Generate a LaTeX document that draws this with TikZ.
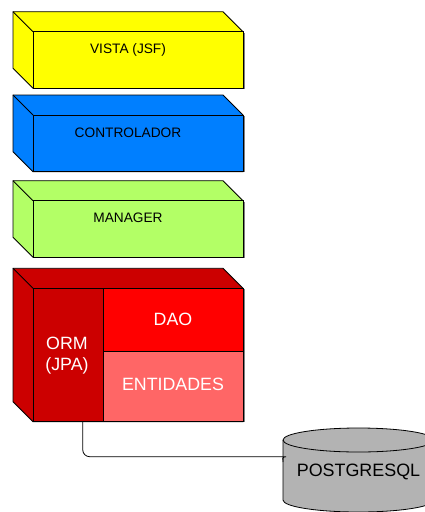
\documentclass[tikz,border=0pt]{standalone}
\usepackage{fontspec}
\setmainfont{Liberation Sans}
\definecolor{cyel}{HTML}{FFFF00}
\definecolor{cblue}{HTML}{007FFF}
\definecolor{cgreen}{HTML}{B3FF66}
\definecolor{cdred}{HTML}{CC0000}
\definecolor{cred}{HTML}{FF0000}
\definecolor{cpink}{HTML}{FF6666}
\definecolor{cgray}{HTML}{B3B3B3}
\tikzset{
  outline/.style={draw=black, line width=0.8pt},
  face/.style={outline, minimum width=210pt, anchor=north west, inner sep=0pt, outer sep=0pt},
  cell/.style={outline, anchor=north west, inner sep=0pt, outer sep=0pt},
  lbl/.style={font=\fontsize{13.7}{16}\selectfont, anchor=base, inner sep=0pt},
  big/.style={font=\fontsize{17.8}{21}\selectfont, text=white, anchor=base, inner sep=0pt},
  conn/.style={draw=black, line width=0.8pt, rounded corners=7pt},
}
\newcommand\layerbox[4]{% name, colour, back top, front bottom
  \path[outline, fill=#2] (13,#3) -- (223,#3) -- (243,#3+20) -- (243,#4) -- (33,#4) -- (13,#4-20) -- cycle;
  \draw[outline] (13,#3) -- (33,#3+20);
  \draw[gray, line width=1pt] (244.6,#3+21) -- (244.6,#4+0.5);
  \node[face, fill=#2, minimum height=#4-#3-20] (#1) at (33,#3+20) {};
}
\begin{document}
\begin{tikzpicture}[x=1pt,y=-1pt]
\useasboundingbox (0,0) rectangle (425,512);
\clip (0,0) rectangle (425,512);
% layers
\layerbox{vista}{cyel}{11.7}{88.3}
\node[lbl] (tvista) at (128,53.7) {VISTA (JSF)};
\layerbox{ctrl}{cblue}{95}{171.7}
\node[lbl] (tctrl) at (128,137) {CONTROLADOR};
\layerbox{mgr}{cgreen}{180.7}{257.3}
\node[lbl] (tmgr) at (128,222.5) {MANAGER};
\layerbox{pers}{cdred}{268.3}{421.7}
% inner cells
\node[cell, fill=cdred, minimum width=70pt, minimum height=133.4pt] (orm) at (33,288.3) {};
\node[cell, fill=cred, minimum width=140pt, minimum height=63pt] (dao) at (103,288.3) {};
\node[cell, fill=cpink, minimum width=140pt, minimum height=70.4pt] (ent) at (103,351.3) {};
\node[big] (tdao) at (173,325.7) {DAO};
\node[big] (tent) at (173,390.7) {ENTIDADES};
\node[big] (torm1) at (67,349.3) {ORM};
\node[big] (torm2) at (67,370.5) {(JPA)};
% database cylinder
\path[outline, fill=cgray] (283,440) -- (283,500) arc[start angle=180, end angle=0, x radius=75.5, y radius=12]
  -- (434,440) arc[start angle=0, end angle=-180, x radius=75.5, y radius=12] -- cycle;
\draw[outline] (283,440) arc[start angle=180, end angle=0, x radius=75.5, y radius=12];
\node[lbl, font=\fontsize{17.9}{21}\selectfont] (db) at (358.5,476.7) {POSTGRESQL};
\coordinate (dbin) at (283,462);
\coordinate (ormout) at (82.7,421.7);
% connector
\draw[conn] (ormout) -- (82.7,456.7) -- (279,456.7) to[out=0, in=90] (dbin);
\end{tikzpicture}
\end{document}
